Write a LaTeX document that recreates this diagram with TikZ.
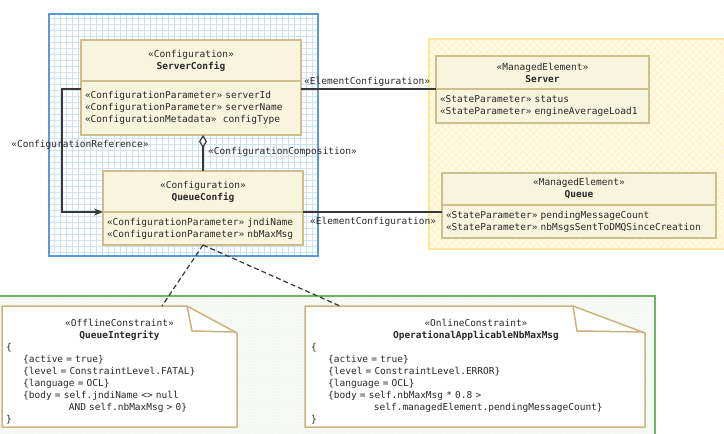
\documentclass[tikz,border=0pt]{standalone}
\usepackage{fontspec}
\setmonofont{DejaVu Sans Mono}
\usetikzlibrary{positioning,arrows.meta,patterns.meta}

\definecolor{txt}{RGB}{40,40,40}
\definecolor{classfill}{RGB}{248,244,222}
\definecolor{classline}{RGB}{206,190,142}
\definecolor{noteline}{RGB}{201,180,128}
\definecolor{pkgblue}{RGB}{91,155,213}
\definecolor{gridblue}{RGB}{205,226,245}
\definecolor{pkgyellow}{RGB}{255,230,153}
\definecolor{fillyellow}{RGB}{255,251,230}
\definecolor{hatchyellow}{RGB}{255,239,185}
\definecolor{pkggreen}{RGB}{112,181,100}
\definecolor{fillgreen}{RGB}{247,250,245}
\definecolor{dotgreen}{RGB}{212,224,208}
\definecolor{connline}{RGB}{55,55,55}

\newcommand{\ind}[1]{\hspace*{#1\fontcharwd\font`x}}

\begin{document}
\begin{tikzpicture}[x=1pt, y=-1pt, font=\ttfamily\fontsize{9.5}{12}\selectfont, text=txt,
	classhead/.style={draw=classline, fill=classfill, line width=1.5pt, align=center, inner sep=0pt, outer sep=0pt},
	classbody/.style={draw=classline, fill=classfill, line width=1.5pt, align=left, inner xsep=4pt, inner ysep=0pt, outer sep=0pt},
	notebox/.style={inner sep=0pt, outer sep=0pt},
	noteline/.style={draw=noteline, line width=1.5pt, line join=round},
	conn/.style={draw=connline, line width=1.2pt},
	lbl/.style={inner sep=0pt}]
	\clip (0,0) rectangle (724,434);
% Pakete:
	% blau
	\fill[white] (49,14) rectangle (318,256);
	\draw[gridblue, line width=0.5pt, step=6pt] (49,256) grid (318,14);
	\draw[pkgblue, line width=2pt] (49,14) rectangle (318,256);
	% gelb
	\fill[fillyellow] (429,39) rectangle (730,249);
	\fill[pattern={Lines[angle=45, distance=5pt, line width=0.6pt]}, pattern color=hatchyellow] (429,39) rectangle (730,249);
	\fill[pattern={Lines[angle=-45, distance=5pt, line width=0.6pt]}, pattern color=hatchyellow] (429,39) rectangle (730,249);
	\draw[pkgyellow, line width=1.5pt] (429,39) rectangle (730,249);
	% gruen
	\fill[fillgreen] (-2,296) rectangle (655,440);
	\fill[pattern={Dots[distance=3pt, radius=0.45pt]}, pattern color=dotgreen] (-2,296) rectangle (655,440);
	\draw[pkggreen, line width=1.5pt] (-2,296) rectangle (655,440);
% Klassen:
	\node[classhead, minimum width=220, minimum height=41] (scHead) at (191,60.5) {«Configuration»\\\textbf{ServerConfig}};
	\node[classbody, below=0pt of scHead, text width=212, minimum height=54] (scBody) {«ConfigurationParameter» serverId\\«ConfigurationParameter» serverName\\«ConfigurationMetadata»\ \ configType};
	\node[classhead, minimum width=200, minimum height=41] (qcHead) at (203,191.5) {«Configuration»\\\textbf{QueueConfig}};
	\node[classbody, below=0pt of qcHead, text width=192, minimum height=33] (qcBody) {«ConfigurationParameter» jndiName\\«ConfigurationParameter» nbMaxMsg};
	\node[classhead, minimum width=213, minimum height=33] (srvHead) at (542.5,72.5) {«ManagedElement»\\\textbf{Server}};
	\node[classbody, below=0pt of srvHead, text width=205, minimum height=34] (srvBody) {«StateParameter» status\\«StateParameter» engineAverageLoad1};
	\node[classhead, minimum width=274, minimum height=32] (queueHead) at (579,189) {«ManagedElement»\\\textbf{Queue}};
	\node[classbody, below=0pt of queueHead, text width=266, minimum height=33] (queueBody) {«StateParameter» pendingMessageCount\\«StateParameter» nbMsgsSentToDMQSinceCreation};
% Notizen:
	\node[notebox, minimum width=235, minimum height=121] (offNote) at (119.5,366.5) {};
	\filldraw[noteline, fill=white] (offNote.north west) -- ([xshift=-50pt]offNote.north east) -- ([yshift=-27pt]offNote.north east) -- (offNote.south east) -- (offNote.south west) -- cycle;
	\draw[noteline] ([xshift=-50pt]offNote.north east) -- ([xshift=-45pt, yshift=-25pt]offNote.north east) -- ([xshift=-2pt, yshift=-26pt]offNote.north east);
	\node[notebox, text width=227, anchor=west] (offText) at ([xshift=4pt, yshift=-5.5pt]offNote.west) {\noindent\centering «OfflineConstraint»\\\textbf{QueueIntegrity}\par
		\raggedright\noindent\{\\
		\ind{3}\{active = true\}\\
		\ind{3}\{level = ConstraintLevel.FATAL\}\\
		\ind{3}\{language = OCL\}\\
		\ind{3}\{body = self.jndiName <> null\\
		\ind{11}AND self.nbMaxMsg > 0\}\\
		\}};
	\node[notebox, minimum width=340, minimum height=121] (onNote) at (475,366.5) {};
	\filldraw[noteline, fill=white] (onNote.north west) -- ([xshift=-72pt]onNote.north east) -- ([yshift=-27pt]onNote.north east) -- (onNote.south east) -- (onNote.south west) -- cycle;
	\draw[noteline] ([xshift=-72pt]onNote.north east) -- ([xshift=-68pt, yshift=-25pt]onNote.north east) -- ([xshift=-2pt, yshift=-26pt]onNote.north east);
	\node[notebox, text width=330, anchor=west] (onText) at ([xshift=6pt, yshift=-5.5pt]onNote.west) {\noindent\centering «OnlineConstraint»\\\textbf{OperationalApplicableNbMaxMsg}\par
		\raggedright\noindent\{\\
		\ind{3}\{active = true\}\\
		\ind{3}\{level = ConstraintLevel.ERROR\}\\
		\ind{3}\{language = OCL\}\\
		\ind{3}\{body = self.nbMaxMsg * 0.8 >\\
		\ind{11}self.managedElement.pendingMessageCount\}\\
		\}};
% Verbindungen:
	\draw[conn] (scBody.east |- srvHead.south) -- (srvHead.south west);
	\node[lbl, anchor=west] (elemLblA) at (304,82) {«ElementConfiguration»};
	\draw[conn] (qcHead.south east) -- (qcHead.south east -| queueBody.west);
	\node[lbl, anchor=west] (elemLblB) at (310,222) {«ElementConfiguration»};
	\draw[conn, -{Stealth[length=9pt, width=7pt]}] ([yshift=-8pt]scHead.south west) -- ++(-19,0) |- (qcHead.south west);
	\node[lbl] (refLbl) at (80,145) {«ConfigurationReference»};
	\draw[conn, arrows={Diamond[length=13pt, width=8pt, fill=white]-}] (scBody.south -| qcHead.north) -- (qcHead.north);
	\node[lbl, anchor=west] (compLbl) at (208,152) {«ConfigurationComposition»};
	% Constraints
	\draw[conn, dash pattern=on 5pt off 3pt] (qcBody.south) -- ([xshift=42.5pt]offNote.north);
	\draw[conn, dash pattern=on 5pt off 3pt] (qcBody.south) -- ([xshift=35pt]onNote.north west);
\end{tikzpicture}
\end{document}
